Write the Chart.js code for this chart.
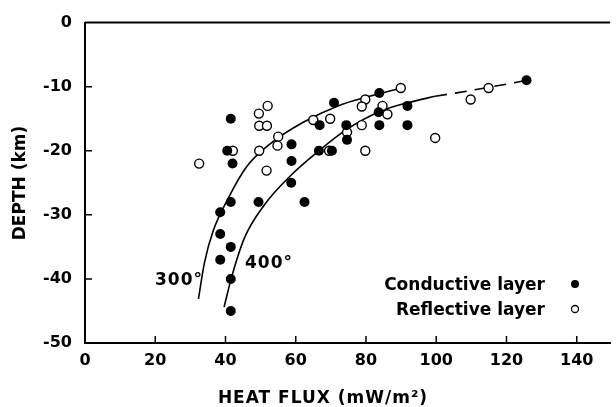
<!DOCTYPE html>
<html>
<head>
<meta charset="utf-8">
<style>
  body { margin: 0; background: #fff; }
  #wrap { width: 616px; height: 407px; }
</style>
</head>
<body>
<div id="wrap"><canvas id="flux-canvas"></canvas></div>
<script src="https://cdn.jsdelivr.net/npm/chart.js@4.4.1/dist/chart.umd.min.js"></script>
<script>
  // Conductive layer (filled dots)
  let cond_x = [41.5, 40.5, 42, 58.8, 58.8, 58.7, 41.5, 49.4, 62.5, 38.5, 38.5, 41.5, 38.5, 41.5, 41.5,
                70.9, 83.8, 66.8, 74.4, 74.6, 83.6, 83.8, 91.8, 91.8, 66.6, 70.3, 125.7];
  let cond_y = [-15, -20, -22, -19, -21.6, -25, -28, -28, -28, -29.6, -33, -35, -37, -40, -45,
                -12.5, -11, -16, -16, -18.3, -14, -16, -13, -16, -20, -20, -9];

  // Reflective layer (open dots)
  let refl_x = [52, 49.5, 49.6, 51.8, 55, 54.8, 42.1, 49.6, 32.5, 51.7, 65, 69.8, 79.8, 78.8,
                84.7, 86.1, 89.9, 78.8, 74.6, 79.8, 99.7, 69.5, 109.8, 114.9];
  let refl_y = [-13, -14.2, -16.1, -16.1, -17.8, -19.2, -20, -20, -22, -23.1, -15.2, -15, -12, -13.1,
                -13, -14.3, -10.2, -16, -17.1, -20, -18, -20, -12, -10.2];

  // 300 degree isotherm curve
  let c300_x = [32.3, 34, 36.5, 40.7, 46, 53, 62, 72, 81, 90];
  let c300_y = [-43.1, -37.5, -32.5, -27.5, -22.5, -18.8, -15.6, -13, -11.5, -10.2];

  // 400 degree isotherm curve (solid part, then dashed part)
  let c400_x = [39.6, 41.7, 45.4, 51, 58.5, 66.6, 74.4, 83.8, 91.9, 99.7];
  let c400_y = [-44.4, -39.8, -33.6, -28.5, -23.9, -20, -16.7, -13.9, -12.5, -11.5];
  let c400d_x = [99.7, 109.8, 126];
  let c400d_y = [-11.5, -10.6, -9];

  let x_ticks = [0, 20, 40, 60, 80, 100, 120, 140];
  let y_ticks = [0, -10, -20, -30, -40, -50];

  let to_points = function(xs, ys) {
    let pts = [];
    for (let i = 0; i < xs.length; i++) pts.push({x: xs[i], y: ys[i]});
    return pts;
  };

  let FONT = "DejaVu Sans";

  // titles, legend, curve labels, inward ticks and top frame
  let extras = {
    id: 'extras',
    afterDraw: function(chart) {
      let ctx = chart.ctx;
      let area = chart.chartArea;
      let xs = chart.scales.x;
      let ys = chart.scales.y;
      ctx.save();
      ctx.strokeStyle = "#000";
      ctx.fillStyle = "#000";

      // top frame line
      ctx.lineWidth = 2;
      ctx.beginPath();
      ctx.moveTo(area.left, area.top);
      ctx.lineTo(area.right, area.top);
      ctx.stroke();

      // inward tick marks
      ctx.lineWidth = 1.5;
      ctx.beginPath();
      x_ticks.forEach(function(v) {
        if (v === 0) return;
        let px = xs.getPixelForValue(v);
        ctx.moveTo(px, area.bottom);
        ctx.lineTo(px, area.bottom - 7);
      });
      y_ticks.forEach(function(v) {
        if (v === 0 || v === -50) return;
        let py = ys.getPixelForValue(v);
        ctx.moveTo(area.left, py);
        ctx.lineTo(area.left + 7, py);
      });
      ctx.stroke();

      // curve labels
      ctx.font = "bold 17px " + FONT;
      ctx.textBaseline = "alphabetic";
      ctx.letterSpacing = "1px";
      ctx.textAlign = "left";
      ctx.fillText("300°", 155, 285);
      ctx.fillText("400°", 245, 268);

      // legend
      ctx.letterSpacing = "0px";
      ctx.textAlign = "right";
      ctx.fillText("Conductive layer", 545, 290);
      ctx.fillText("Reflective layer", 545, 315);
      ctx.beginPath();
      ctx.arc(575, 284, 4, 0, 2 * Math.PI);
      ctx.fill();
      ctx.beginPath();
      ctx.lineWidth = 1.3;
      ctx.fillStyle = "#fff";
      ctx.arc(575, 309, 3.5, 0, 2 * Math.PI);
      ctx.fill();
      ctx.stroke();
      ctx.fillStyle = "#000";

      // axis titles
      ctx.textAlign = "center";
      ctx.letterSpacing = "1px";
      ctx.fillText("HEAT FLUX (mW/m²)", 323, 403);
      ctx.letterSpacing = "0px";
      ctx.translate(25, 183);
      ctx.rotate(-Math.PI / 2);
      ctx.fillText("DEPTH (km)", 0, 0);
      ctx.restore();
    }
  };

  let flux_ctx = document.getElementById("flux-canvas").getContext("2d");
  let flux_chart = new Chart(flux_ctx, {
    type: 'scatter',
    data: {
      datasets: [
        {
          label: 'Conductive layer',
          data: to_points(cond_x, cond_y),
          pointRadius: 5,
          pointBackgroundColor: "#000",
          pointBorderColor: "#000",
          pointBorderWidth: 0,
          order: 1
        },
        {
          label: 'Reflective layer',
          data: to_points(refl_x, refl_y),
          pointRadius: 4.5,
          pointBackgroundColor: "#fff",
          pointBorderColor: "#000",
          pointBorderWidth: 1.4,
          order: 2
        },
        {
          label: '300',
          data: to_points(c300_x, c300_y),
          showLine: true,
          pointRadius: 0,
          borderColor: "#000",
          borderWidth: 1.6,
          cubicInterpolationMode: 'monotone',
          order: 3
        },
        {
          label: '400',
          data: to_points(c400_x, c400_y),
          showLine: true,
          pointRadius: 0,
          borderColor: "#000",
          borderWidth: 1.6,
          cubicInterpolationMode: 'monotone',
          order: 3
        },
        {
          label: '400 dashed',
          data: to_points(c400d_x, c400d_y),
          showLine: true,
          pointRadius: 0,
          borderColor: "#000",
          borderWidth: 1.6,
          borderDash: [12, 8],
          cubicInterpolationMode: 'monotone',
          order: 3
        }
      ]
    },
    options: {
      responsive: true,
      maintainAspectRatio: false,
      animation: false,
      layout: { padding: { top: 18, right: 0, left: 0, bottom: 0 } },
      plugins: {
        legend: { display: false },
        tooltip: { enabled: false }
      },
      scales: {
        x: {
          type: 'linear',
          min: 0,
          max: 149.5,
          afterBuildTicks: function(scale) {
            scale.ticks = x_ticks.map(function(v) { return {value: v}; });
          },
          afterFit: function(scale) { scale.height = 64; },
          ticks: {
            font: { family: FONT, size: 16, weight: 'bold' },
            color: "#000",
            padding: 8
          },
          grid: { display: false, drawTicks: false },
          border: { display: true, width: 2, color: "#000" }
        },
        y: {
          type: 'linear',
          min: -50,
          max: 0,
          afterBuildTicks: function(scale) {
            scale.ticks = y_ticks.map(function(v) { return {value: v}; });
          },
          afterFit: function(scale) { scale.width = 85; },
          ticks: {
            font: { family: FONT, size: 16, weight: 'bold' },
            color: "#000",
            padding: 13,
            callback: function(v) { return v < 0 ? "-" + Math.abs(v) : "" + v; }
          },
          grid: { display: false, drawTicks: false },
          border: { display: true, width: 2, color: "#000" }
        }
      }
    },
    plugins: [extras]
  });
</script>
</body>
</html>
